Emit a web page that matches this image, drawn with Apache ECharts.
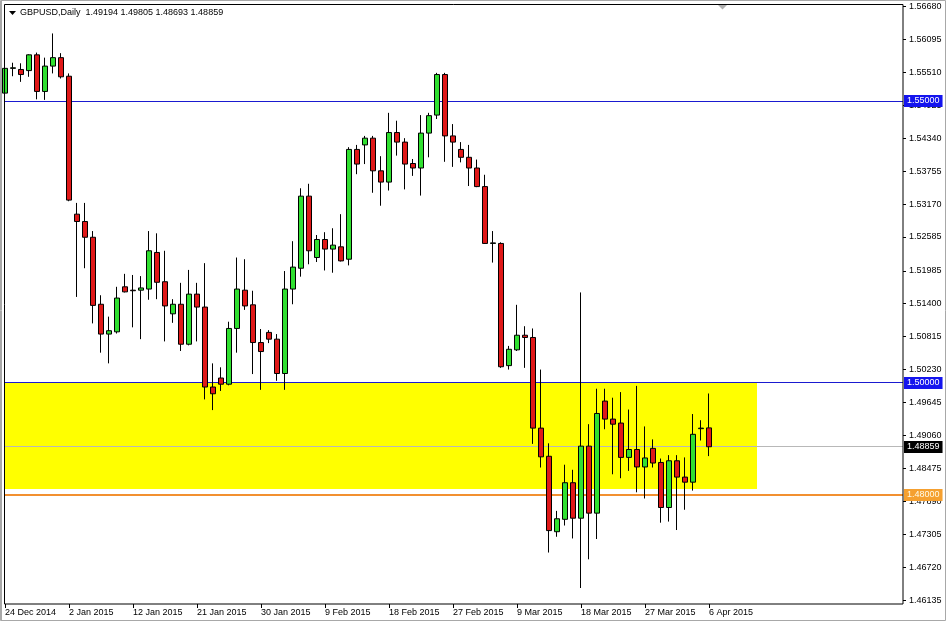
<!DOCTYPE html>
<html>
<head>
<meta charset="utf-8">
<script src="https://cdn.jsdelivr.net/npm/echarts@6/dist/echarts.min.js"></script>
<style>
html,body{margin:0;padding:0;background:#fff;}
#chart{width:947px;height:623px;}
</style>
</head>
<body>
<div id="chart"></div>
<script>
// ---- data ----
const dates = [
 '24 Dec 2014','25 Dec 2014','26 Dec 2014','28 Dec 2014','29 Dec 2014','30 Dec 2014','31 Dec 2014','1 Jan 2015',
 '2 Jan 2015','4 Jan 2015','5 Jan 2015','6 Jan 2015','7 Jan 2015','8 Jan 2015','9 Jan 2015','11 Jan 2015',
 '12 Jan 2015','13 Jan 2015','14 Jan 2015','15 Jan 2015','16 Jan 2015','18 Jan 2015','19 Jan 2015','20 Jan 2015',
 '21 Jan 2015','22 Jan 2015','23 Jan 2015','25 Jan 2015','26 Jan 2015','27 Jan 2015','28 Jan 2015','29 Jan 2015',
 '30 Jan 2015','1 Feb 2015','2 Feb 2015','3 Feb 2015','4 Feb 2015','5 Feb 2015','6 Feb 2015','8 Feb 2015',
 '9 Feb 2015','10 Feb 2015','11 Feb 2015','12 Feb 2015','13 Feb 2015','15 Feb 2015','16 Feb 2015','17 Feb 2015',
 '18 Feb 2015','19 Feb 2015','20 Feb 2015','22 Feb 2015','23 Feb 2015','24 Feb 2015','25 Feb 2015','26 Feb 2015',
 '27 Feb 2015','1 Mar 2015','2 Mar 2015','3 Mar 2015','4 Mar 2015','5 Mar 2015','6 Mar 2015','8 Mar 2015',
 '9 Mar 2015','10 Mar 2015','11 Mar 2015','12 Mar 2015','13 Mar 2015','15 Mar 2015','16 Mar 2015','17 Mar 2015',
 '18 Mar 2015','19 Mar 2015','20 Mar 2015','22 Mar 2015','23 Mar 2015','24 Mar 2015','25 Mar 2015','26 Mar 2015',
 '27 Mar 2015','29 Mar 2015','30 Mar 2015','31 Mar 2015','1 Apr 2015','2 Apr 2015','3 Apr 2015','5 Apr 2015',
 '6 Apr 2015'
];
const openP = [
 1.5514,1.5558,1.5556,1.5554,1.5582,1.5517,1.5562,1.5577,
 1.5544,1.5299,1.5286,1.5258,1.5139,1.5086,1.5090,1.5170,
 1.5164,1.5164,1.5166,1.5231,1.5179,1.5122,1.5139,1.5068,
 1.5157,1.5134,1.4992,1.5008,1.4997,1.5096,1.5164,1.5138,
 1.5071,1.5089,1.5077,1.5016,1.5166,1.5203,1.5331,1.5222,
 1.5254,1.5237,1.5241,1.5219,1.5414,1.5422,1.5434,1.5376,
 1.5356,1.5444,1.5427,1.5389,1.5381,1.5443,1.5475,1.5547,
 1.5438,1.5414,1.5400,1.5381,1.5348,1.5247,1.5247,1.5030,
 1.5058,1.5084,1.5080,1.4919,1.4869,1.4735,1.4757,1.4822,
 1.4759,1.4887,1.4768,1.4967,1.4935,1.4928,1.4867,1.4881,
 1.4850,1.4883,1.4858,1.4778,1.4861,1.4832,1.4823,1.4918,
 1.49194
];
const highP = [
 1.5560,1.5568,1.5567,1.5583,1.5586,1.5577,1.5620,1.5585,
 1.5549,1.5319,1.5319,1.5269,1.5155,1.5117,1.5170,1.5193,
 1.5191,1.5189,1.5269,1.5265,1.5234,1.5148,1.5177,1.5200,
 1.5177,1.5212,1.5034,1.5027,1.5108,1.5222,1.5219,1.5163,
 1.5095,1.5093,1.5086,1.5198,1.5251,1.5345,1.5353,1.5262,
 1.5267,1.5274,1.5299,1.5418,1.5422,1.5438,1.5438,1.5402,
 1.5479,1.5465,1.5434,1.5397,1.5475,1.5479,1.5550,1.5550,
 1.5459,1.5427,1.5422,1.5396,1.5369,1.5269,1.5249,1.5065,
 1.5138,1.5100,1.5096,1.5023,1.4892,1.4772,1.4854,1.4845,
 1.5160,1.4926,1.4989,1.4989,1.4973,1.4983,1.4952,1.4994,
 1.4922,1.4899,1.4865,1.4871,1.4871,1.4867,1.4944,1.4933,
 1.49805
];
const lowP = [
 1.5511,1.5544,1.5534,1.5543,1.5503,1.5502,1.5549,1.5540,
 1.5322,1.5152,1.5203,1.5105,1.5053,1.5034,1.5087,1.5160,
 1.5098,1.5077,1.5147,1.5148,1.5073,1.5106,1.5056,1.5066,
 1.5073,1.4970,1.4951,1.4985,1.4995,1.5053,1.5129,1.5015,
 1.4987,1.5070,1.5003,1.4987,1.5139,1.5188,1.5210,1.5214,
 1.5199,1.5195,1.5215,1.5208,1.5370,1.5388,1.5337,1.5314,
 1.5341,1.5403,1.5343,1.5367,1.5332,1.5400,1.5468,1.5392,
 1.5383,1.5391,1.5349,1.5347,1.5246,1.5213,1.5026,1.5023,
 1.5056,1.5026,1.4891,1.4849,1.4698,1.4726,1.4746,1.4723,
 1.4635,1.4686,1.4722,1.4917,1.4837,1.4830,1.4843,1.4805,
 1.4794,1.4849,1.4751,1.4753,1.4738,1.4774,1.4808,1.4897,
 1.48693
];
const closeP = [
 1.5558,1.5559,1.5547,1.5582,1.5517,1.5562,1.5577,1.5543,
 1.5324,1.5286,1.5258,1.5137,1.5086,1.5092,1.5150,1.5161,
 1.5163,1.5168,1.5234,1.5178,1.5136,1.5139,1.5068,1.5157,
 1.5134,1.4992,1.4980,1.4997,1.5096,1.5166,1.5136,1.5071,
 1.5055,1.5077,1.5016,1.5166,1.5205,1.5331,1.5234,1.5254,
 1.5237,1.5244,1.5216,1.5414,1.5388,1.5434,1.5376,1.5356,
 1.5444,1.5427,1.5388,1.5381,1.5443,1.5474,1.5547,1.5438,
 1.5427,1.5400,1.5381,1.5348,1.5247,1.5248,1.5028,1.5059,
 1.5084,1.5080,1.4919,1.4868,1.4737,1.4758,1.4822,1.4759,
 1.4887,1.4768,1.4945,1.4935,1.4926,1.4867,1.4881,1.4850,
 1.4866,1.4857,1.4778,1.4861,1.4832,1.4823,1.4908,1.4919,
 1.48859
];
const priceTicks = [1.46135,1.46720,1.47305,1.47890,1.48475,1.49060,1.49645,1.50230,1.50815,
 1.51400,1.51985,1.52585,1.53170,1.53755,1.54340,1.54925,1.55510,1.56095,1.56680];
const levelValues = [1.55000, 1.50000, 1.48859, 1.48000];
const levelLineColors = ['#1a1ad0', '#1a1ad0', '#b8b8b8', '#f29030'];
const levelLineWidths = [1, 1, 1, 2];
const levelTagColors = ['#1414ee', '#1414ee', '#000000', '#f5a030'];
const levelTagText = ['#ffffff', '#ffffff', '#ffffff', '#fffbe8'];
const zoneTop = 1.4999;
const zoneBottom = 1.4811;
const zoneEndIndex = 94;
const titleText = 'GBPUSD,Daily  1.49194 1.49805 1.48693 1.48859';
const emptySlots = 24;

// ---- build ----
const categories = dates.concat(new Array(emptySlots).fill(''));
const ohlc = dates.map((d, i) => [openP[i], closeP[i], lowP[i], highP[i]]);
const FONT = "'Liberation Sans', Arial, sans-serif";

const chart = echarts.init(document.getElementById('chart'), null, {renderer: 'canvas'});
chart.setOption({
  animation: false,
  backgroundColor: '#ffffff',
  textStyle: {fontFamily: FONT},
  grid: {left: 5, top: 4, width: 896, height: 600, containLabel: false},
  xAxis: {
    type: 'category',
    data: categories,
    boundaryGap: false,
    axisLine: {show: false},
    axisTick: {show: true, length: 4, lineStyle: {color: '#000'},
      interval: (i) => i % 8 === 0 && i < dates.length},
    axisLabel: {show: true, color: '#000', fontSize: 9, fontFamily: FONT, align: 'left', margin: 4,
      showMinLabel: true,
      interval: (i) => i % 8 === 0 && i < dates.length},
    splitLine: {show: false}
  },
  yAxis: {
    type: 'value',
    position: 'right',
    offset: 2,
    min: 1.46066,
    max: 1.56723,
    scale: true,
    axisLine: {show: false},
    axisTick: {show: true, length: 3, lineStyle: {color: '#000'}, customValues: priceTicks},
    axisLabel: {show: true, color: '#000', fontSize: 9, fontFamily: FONT, margin: 6,
      customValues: priceTicks, formatter: v => Number(v).toFixed(5)},
    splitLine: {show: false}
  },
  series: [{
    type: 'candlestick',
    z: 3,
    data: ohlc,
    barWidth: 5,
    clip: true,
    itemStyle: {
      color: '#30e030', color0: '#e01818',
      borderColor: '#000000', borderColor0: '#000000', borderWidth: 1
    },
    markArea: {
      silent: true,
      z: 1,
      itemStyle: {color: '#ffff00', opacity: 1},
      data: [[{xAxis: 0, yAxis: zoneTop}, {xAxis: zoneEndIndex, yAxis: zoneBottom}]]
    }
  }]
});

// horizontal levels: positioned through the chart's own y scale, snapped to a crisp pixel row
const graphics = [
  {type: 'rect', silent: true, z: 100, shape: {x: 4.5, y: 4.5, width: 898.5, height: 599.5},
    style: {fill: null, stroke: '#000', lineWidth: 1}},
  {type: 'rect', silent: true, z: 100, shape: {x: 0.5, y: 0.5, width: 945, height: 620},
    style: {fill: null, stroke: '#a8a8a8', lineWidth: 1}},
  {type: 'line', silent: true, z: 100, shape: {x1: 1.5, y1: 0, x2: 1.5, y2: 621},
    style: {stroke: '#a8a8a8', lineWidth: 1}},
  {type: 'polygon', silent: true, z: 100, shape: {points: [[9, 11], [16, 11], [12.5, 15]]},
    style: {fill: '#000'}},
  {type: 'polygon', silent: true, z: 100, shape: {points: [[718, 5], [727, 5], [722.5, 9.5]]},
    style: {fill: '#b0b0b0'}},
  {type: 'text', silent: true, z: 100, x: 20, y: 13,
    style: {text: titleText, fill: '#000', font: '9px ' + FONT, verticalAlign: 'middle', align: 'left'}}
];
levelValues.forEach((v, k) => {
  const py = chart.convertToPixel({yAxisIndex: 0}, v);
  const w = levelLineWidths[k];
  const y = (w % 2 === 1) ? Math.floor(py) + 0.5 : Math.round(py);
  graphics.push({type: 'line', silent: true, z: 2,
    shape: {x1: 5, y1: y, x2: 903, y2: y},
    style: {stroke: levelLineColors[k], lineWidth: w}});
  graphics.push({type: 'text', silent: true, z: 110, x: 904, y: Math.round(py),
    style: {text: v.toFixed(5), fill: levelTagText[k], backgroundColor: levelTagColors[k],
      padding: [2, 3, 1, 3], font: '9px ' + FONT, verticalAlign: 'middle', align: 'left'}});
});
chart.setOption({graphic: graphics});
</script>
</body>
</html>
